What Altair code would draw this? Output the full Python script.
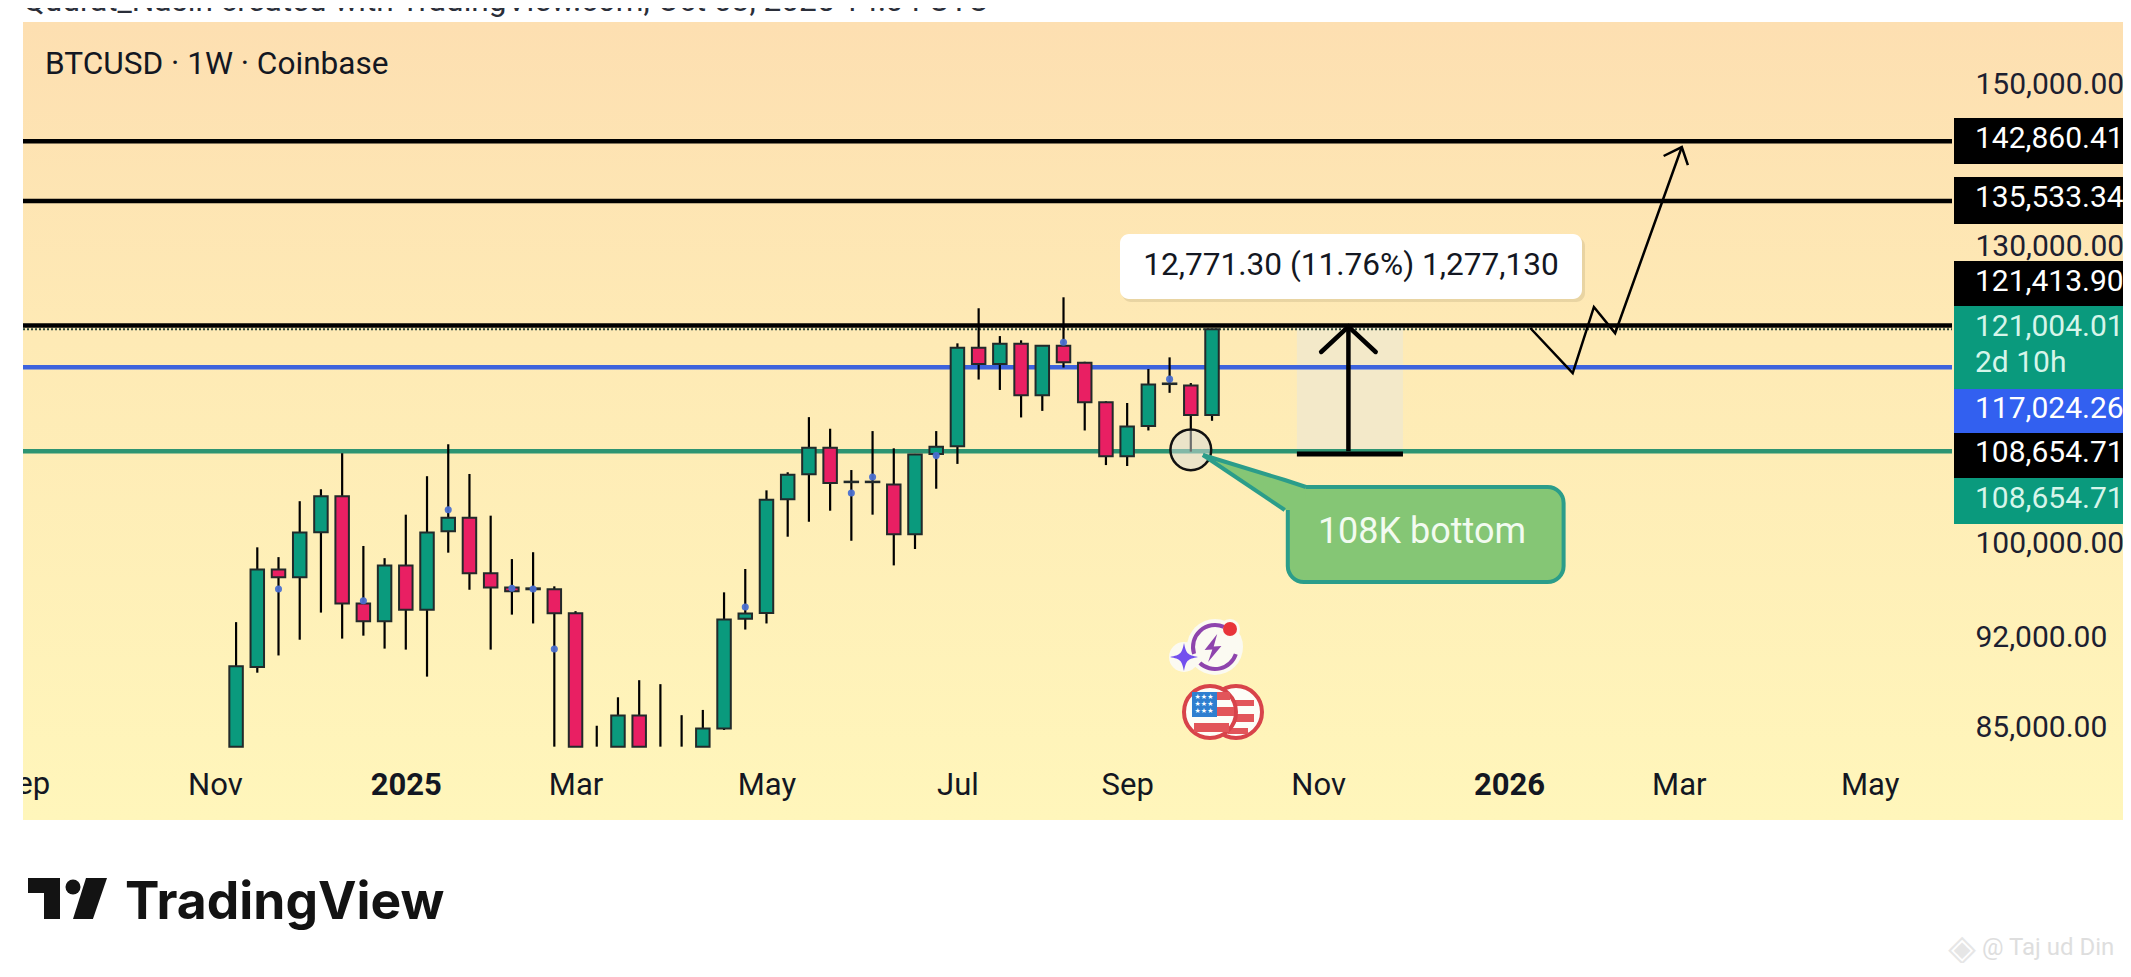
import altair as alt
import pandas as pd

# ---------- data ----------
first_week = "2024-11-11"
opens = [83710, 89820, 97890, 97210, 101160, 104420, 95000, 93520, 98240, 94460, 101250, 102460, 97560, 96350, 96190, 96190, 94180, None, 83710, 86040, None, None, 83710, 85070, 93710, 94200, 104145, 106470, 109000, 105730, 105730, 105510, 100980, 108400, 109140, 119060, 117360, 119480, 114160, 119270, 117490, 113460, 108170, 111100, 115300, 115160, 112180]
closes = [89860, 97890, 97210, 101130, 104420, 95000, 93520, 98240, 94460, 101130, 102460, 97560, 96350, 96020, 96270, 94180, 83710, None, 86040, 83710, None, None, 85070, 93650, 94150, 104110, 106430, 109000, 105660, 105780, 105780, 100980, 108340, 109100, 119060, 117360, 119480, 114160, 119270, 117530, 113460, 108170, 111060, 115260, 115360, 112180, 121004]
highs = [93440, 99820, 98960, 103970, 105070, 108470, 99940, 98870, 102740, 106290, 109330, 106500, 102650, 98790, 99390, 96440, 94350, 85270, 87440, 88770, 88460, 86070, 86470, 95930, 97930, 104970, 106660, 111980, 110840, 106870, 110610, 108940, 108400, 110610, 119520, 123280, 120290, 119840, 119270, 124480, 117590, 113560, 113390, 116840, 118050, 115400, 121004]
lows = [83710, 89360, 90730, 92000, 94230, 92090, 92330, 91280, 91200, 89050, 99350, 96150, 91200, 94060, 93330, 83710, 83710, 83710, 83710, 83710, 83710, 83710, 83710, 84950, 92830, 93330, 100760, 102100, 103100, 100400, 102740, 98240, 99670, 105120, 107450, 115760, 114700, 111950, 112600, 116990, 110670, 107340, 107250, 110670, 114410, 108620, 111620]

event_dates = ["2024-11-25", "2024-12-23", "2025-01-20", "2025-02-10", "2025-02-17", "2025-02-24", "2025-04-28", "2025-06-02", "2025-06-09", "2025-06-30", "2025-08-11", "2025-09-15"]
event_prices = [96210, 95225, 103190, 96270, 96210, 91250, 94700, 104730, 106220, 108240, 119630, 115800]

level_prices = [142860.41, 135533.34, 121413.90, 117024.26, 108654.71]
level_colors = ["#000000", "#000000", "#000000", "#3d63dd", "#2d9472"]
current_price = 121004.01

price_ticks = [150000, 130000, 100000, 92000, 85000]

path_dates = ["2026-01-12", "2026-01-26", "2026-02-02", "2026-02-09", "2026-03-03"]
path_prices = [121150, 116410, 123420, 120600, 142140]
head_dates = ["2026-02-25", "2026-03-03", "2026-03-05"]
head_prices = [141020, 142140, 139900]

range_dates = ["2025-10-27", "2025-12-01"]
range_arrow_date = "2025-11-13"
range_head_dates = ["2025-11-04", "2025-11-13", "2025-11-22"]
range_head_prices = [118611, 121300, 118611]

bubble_dates = ["2025-09-26", "2025-10-23", "2025-10-30"]
bubble_upper = [108300, 105935, 105282]
bubble_lower = [108300, 103166, 103166]
bubble_box_dates = ["2025-10-24", "2026-01-23"]
bubble_box_prices = [105282, 96812]

# ---------- scales ----------
W, H = 2100, 798
def Z(d):
    return d + "T00:00:00Z"

xscale = alt.Scale(type="utc", padding=0, domain=[
    alt.DateTime(year=2024, month=9, date=1, hours=16, minutes=48, utc=True),
    alt.DateTime(year=2026, month=7, date=26, hours=13, minutes=30, utc=True)])
yscale = alt.Scale(type="log", domain=[78461, 158733], nice=False, zero=False)

def dt(y, m, d):
    return alt.DateTime(year=y, month=m, date=d, utc=True)

xaxis = alt.Axis(
    values=[dt(2024, 11, 4), dt(2025, 1, 6), dt(2025, 3, 3), dt(2025, 5, 5), dt(2025, 7, 7), dt(2025, 9, 1),
            dt(2025, 11, 3), dt(2026, 1, 5), dt(2026, 3, 2), dt(2026, 5, 4)],
    labelExpr="utcFormat(datum.value,'%b')=='Jan' ? utcFormat(datum.value,'%Y') : utcFormat(datum.value,'%b')",
    labelFontWeight={"condition": {"test": "utcFormat(datum.value,'%b')=='Jan'", "value": 700}, "value": 400},
    title=None, grid=False, domain=False, ticks=False, labelFontSize=31, labelFont="Roboto", labelColor="#131722",
    labelPadding=0, offset=-35, labelBaseline="middle", labelOverlap=False, zindex=1)
yaxis = alt.Axis(values=price_ticks, format=",.2f", title=None, grid=False, domain=False, ticks=False, orient="right",
                 offset=-(W - (1975 - 23)), labelPadding=0, labelFontSize=30, labelFont="Roboto", labelColor="#1c2030",
                 labelOverlap=False, labelOffset=-2, zindex=1)

def X(f):
    return alt.X(f + ":T", scale=xscale, axis=xaxis, title=None)
def Y(f):
    return alt.Y(f + ":Q", scale=yscale, axis=yaxis, title=None)
def px(x):
    return alt.value(x - 23)
def py(y):
    return alt.value(y - 22)

def rect(x0, x1, y0, y1, color, **kw):
    return alt.Chart(pd.DataFrame({"a": [0]})).mark_rect(color=color, **kw).encode(x=px(x0), x2=px(x1), y=py(y0), y2=py(y1))

def label(t, x, y, size=30, color="#131722", align="left", baseline="middle", font="Roboto", weight=400, **kw):
    return alt.Chart(pd.DataFrame({"t": [t]})).mark_text(align=align, baseline=baseline, fontSize=size, color=color,
                                                         font=font, fontWeight=weight, **kw).encode(text="t:N", x=px(x), y=py(y))

def symbol(x, y, size, shape="circle", **kw):
    return alt.Chart(pd.DataFrame({"a": [0]})).mark_point(shape=shape, size=size, opacity=1, **kw).encode(x=px(x), y=py(y))

# ---------- frames ----------
dates = pd.date_range(first_week, periods=len(opens), freq="7D").strftime("%Y-%m-%dT00:00:00Z")
candles = pd.DataFrame({"date": dates, "open": opens, "close": closes, "high": highs, "low": lows})
candles["color"] = ["#0a9a7d" if (o is not None and c >= o) else "#e91f63" for o, c in zip(opens, closes)]

events = pd.DataFrame({"date": [Z(d) for d in event_dates], "price": event_prices})
levels = pd.DataFrame({"price": level_prices, "color": level_colors})

layers = []

# panel background
layers.append(alt.Chart(pd.DataFrame({"a": [0]})).mark_rect(color=alt.Gradient(
    gradient="linear", x1=0, y1=0, x2=0, y2=1,
    stops=[alt.GradientStop(offset=0, color="#fddfb1"), alt.GradientStop(offset=0.4, color="#feeab5"),
           alt.GradientStop(offset=1, color="#fff6bb")])).encode(x=alt.value(0), x2=alt.value(W), y=alt.value(0), y2=alt.value(H)))

# long position range box
layers.append(alt.Chart(pd.DataFrame({"d0": [Z(range_dates[0])], "d1": [Z(range_dates[1])], "p0": [level_prices[2]], "p1": [level_prices[4]]}))
              .mark_rect(color="#f3e9c9").encode(x=X("d0"), x2="d1:T", y=Y("p0"), y2="p1:Q"))

# level lines
layers.append(alt.Chart(levels).mark_rule(strokeWidth=4.4).encode(
    y=Y("price"), x=alt.value(0), x2=alt.value(1929), color=alt.Color("color:N", scale=None)))
layers.append(alt.Chart(pd.DataFrame({"price": [current_price]})).mark_rule(strokeWidth=2, strokeDash=[2, 2], color="#2a4a3c").encode(
    y=Y("price"), x=alt.value(0), x2=alt.value(1929)))

# candles
layers.append(alt.Chart(candles).mark_rule(strokeWidth=2.2, color="#000000").encode(x=X("date"), y=Y("high"), y2="low:Q"))
layers.append(alt.Chart(candles).transform_filter("isValid(datum.open)").mark_bar(size=13.5, stroke="#222a2a", strokeWidth=2).encode(
    x=X("date"), y=Y("open"), y2="close:Q", color=alt.Color("color:N", scale=None)))
layers.append(alt.Chart(events).mark_circle(size=50, color="#4a6fd0", opacity=0.95).encode(x=X("date"), y=Y("price")))

# circle on the bottom wick
layers.append(alt.Chart(pd.DataFrame({"date": [Z("2025-09-22")], "price": [108800]})).mark_circle(
    size=1662, fill="#d8dcdc", fillOpacity=0.5, stroke="#111111", strokeWidth=2.5, opacity=1).encode(x=X("date"), y=Y("price")))

# range arrow
layers.append(alt.Chart(pd.DataFrame({"date": [Z(range_arrow_date)], "p0": [level_prices[4]], "p1": [level_prices[2]]}))
              .mark_rule(strokeWidth=4.5, color="#000000").encode(x=X("date"), y=Y("p0"), y2="p1:Q"))
layers.append(alt.Chart(pd.DataFrame({"d0": [Z(range_dates[0])], "d1": [Z(range_dates[1])], "price": [108400]}))
              .mark_rule(strokeWidth=5, color="#000000").encode(x=X("d0"), x2="d1:T", y=Y("price")))
layers.append(alt.Chart(pd.DataFrame({"date": [Z(d) for d in range_head_dates], "price": range_head_prices, "i": [0, 1, 2]}))
              .mark_line(strokeWidth=4.5, color="#000000", strokeCap="round", strokeJoin="miter").encode(x=X("date"), y=Y("price"), order="i:Q"))

# projected path
layers.append(alt.Chart(pd.DataFrame({"date": [Z(d) for d in path_dates], "price": path_prices, "i": range(5)}))
              .mark_line(strokeWidth=2.5, color="#000000", strokeJoin="miter").encode(x=X("date"), y=Y("price"), order="i:Q"))
layers.append(alt.Chart(pd.DataFrame({"date": [Z(d) for d in head_dates], "price": head_prices, "i": range(3)}))
              .mark_line(strokeWidth=2.5, color="#000000", strokeJoin="miter").encode(x=X("date"), y=Y("price"), order="i:Q"))

# callout
GREEN_FILL, GREEN_EDGE = "#85c675", "#2b9d8a"
layers.append(alt.Chart(pd.DataFrame({"d0": [Z(bubble_box_dates[0])], "d1": [Z(bubble_box_dates[1])], "p0": [bubble_box_prices[0]], "p1": [bubble_box_prices[1]]}))
              .mark_rect(fill=GREEN_FILL, stroke=GREEN_EDGE, strokeWidth=4, cornerRadius=16).encode(x=X("d0"), x2="d1:T", y=Y("p0"), y2="p1:Q"))
tail = pd.DataFrame({"date": [Z(d) for d in bubble_dates], "up": bubble_upper, "lo": bubble_lower})
layers.append(alt.Chart(tail).mark_area(color=GREEN_FILL, opacity=1).encode(x=X("date"), y=Y("up"), y2="lo:Q"))
layers.append(alt.Chart(tail).mark_line(color=GREEN_EDGE, strokeWidth=4).encode(x=X("date"), y=Y("up")))
layers.append(alt.Chart(tail.iloc[:2]).mark_line(color=GREEN_EDGE, strokeWidth=4).encode(x=X("date"), y=Y("lo")))
layers.append(label("108K bottom", 1422, 532, size=36, color="#f2fbf0", align="center"))

# measure label
layers.append(rect(1122, 1585, 237, 302, "#8a7a55", cornerRadius=9, opacity=0.18))
layers.append(rect(1120, 1582, 234, 299, "#ffffff", cornerRadius=9))
layers.append(label("12,771.30 (11.76%) 1,277,130", 1351, 266, size=31.6, align="center"))

# price boxes
boxes = [(118, 164, "#000000"), (177, 224, "#000000"), (261, 306, "#000000"), (306, 389, "#0a9a7d"),
         (389, 433, "#3260f0"), (433, 478, "#000000"), (478, 524, "#0a9a7d")]
for y0, y1, c in boxes:
    layers.append(rect(1954, 2123, y0, y1, c))
box_labels = [("142,860.41", 139, "#ffffff"), ("135,533.34", 198, "#ffffff"), ("121,413.90", 282, "#ffffff"),
              ("121,004.01", 327, "#d6f5ea"), ("2d 10h", 363, "#d6f5ea"), ("117,024.26", 409, "#ffffff"),
              ("108,654.71", 453, "#ffffff"), ("108,654.71", 499, "#d6f5ea")]
for t, y, c in box_labels:
    layers.append(label(t, 1975, y, color=c))

# texts
layers.append(label("BTCUSD · 1W · Coinbase", 45, 65, size=31.6))
layers.append(label("Qudrat_Nasin created with TradingView.com, Oct 03, 2025 14:04 UTC", 23, 11, size=31.6, color="#2a2e39", baseline="alphabetic"))
layers.append(alt.Chart(pd.DataFrame({"date": [Z("2024-09-02")], "t": ["Sep"]})).mark_text(
    clip=True, fontSize=31, font="Roboto", color="#131722", baseline="middle").encode(x=X("date"), y=alt.value(763), text="t:N"))

# event icons
PURPLE = "#8e44ad"
layers.append(symbol(1215, 647, (2 * 28) ** 2, filled=True, color="#fbfaf2", strokeOpacity=0))
layers.append(symbol(1230, 629, (2 * 10) ** 2, filled=True, color="#fbfaf2", strokeOpacity=0))
layers.append(symbol(1184, 657, (2 * 15) ** 2, filled=True, color="#fbfaf2", strokeOpacity=0))
ARC = alt.Chart(pd.DataFrame({"a": [0]}))
layers.append(ARC.mark_arc(radius=24, radius2=20, color=PURPLE).encode(x=px(1215), y=py(647), theta=alt.value(1.9), theta2=alt.value(3.9)))
layers.append(ARC.mark_arc(radius=24, radius2=20, color=PURPLE).encode(x=px(1215), y=py(647), theta=alt.value(4.4), theta2=alt.value(6.7)))
layers.append(symbol(1230, 629, (2 * 7) ** 2, filled=True, color="#e8343a", strokeOpacity=0))
STAR = "M0,-1C.15,-.25 .25,-.15 1,0C.25,.15 .15,.25 0,1C-.15,.25 -.25,.15 -1,0C-.25,-.15 -.15,-.25 0,-1Z"
layers.append(symbol(1184, 657, (2 * 14) ** 2, shape=STAR, filled=True, color="#7350ee", strokeOpacity=0))
BOLT = "M.3,-1L-.6,.15L-.05,.1L-.35,1L.6,-.15L.05,-.1Z"
layers.append(symbol(1213, 648, (2 * 14) ** 2, shape=BOLT, filled=True, color=PURPLE, strokeOpacity=0))

RED = "#d8434a"
layers.append(symbol(1236, 712, (2 * 26) ** 2, filled=True, fill="#fdfdf8", stroke=RED, strokeWidth=4))
layers.append(rect(1228, 1254, 700, 706, "#e2555a"))
layers.append(rect(1228, 1254, 714, 722, "#e2555a"))
layers.append(rect(1228, 1248, 728, 734, "#e2555a"))
layers.append(symbol(1210, 712, (2 * 26) ** 2, filled=True, fill="#fdfdf8", stroke=RED, strokeWidth=4))
layers.append(rect(1192, 1217, 692, 717, "#2f7fd0"))
layers.append(rect(1217, 1230, 692, 700, "#e2555a"))
layers.append(rect(1217, 1234, 707, 716, "#e2555a"))
layers.append(rect(1194, 1229, 723, 732, "#e2555a"))
for yy in (697, 704, 711):
    layers.append(label("★★★", 1204, yy, size=7, color="#ffffff", align="center", font="DejaVu Sans"))

# logo
layers.append(rect(28, 60, 878, 893, "#131313"))
layers.append(rect(44, 60, 893, 919, "#131313"))
layers.append(symbol(73, 887, (2 * 7.5) ** 2, filled=True, color="#131313", strokeOpacity=0))
layers.append(symbol(90, 898.5, 42 ** 2, shape="M-.19,-.976L.81,-.976L.14,.976L-.81,.976Z", filled=True, color="#131313", strokeOpacity=0))
layers.append(label("TradingView", 125, 919, size=51.6, color="#131313", baseline="alphabetic", font="Inter", weight=700))

# watermark
layers.append(label("◈", 1962, 949, size=36, color="#e6e6e6", align="center", font="DejaVu Sans"))
layers.append(label("@ Taj ud Din", 1982, 948, size=24, color="#dedede"))

chart = alt.layer(*layers).properties(
    width=W, height=H,
    padding={"left": 15, "top": 14, "right": 0, "bottom": 143},
    autosize=alt.AutoSizeParams(type="none"),
    background="#ffffff",
).configure_view(strokeWidth=0)

chart.save("out.html", embed_options={"renderer": "svg", "actions": False})
